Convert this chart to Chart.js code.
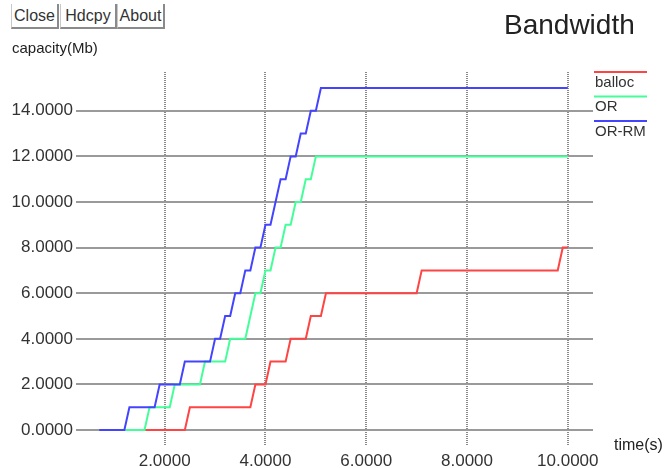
<!DOCTYPE html>
<html>
<head>
<meta charset="utf-8">
<script src="https://cdn.jsdelivr.net/npm/chart.js@4.4.1/dist/chart.umd.min.js"></script>
<style>
  html, body { margin: 0; padding: 0; background: #fff; }
  #wrap { position: relative; width: 672px; height: 468px; overflow: hidden; }
  #chartBandwidth { position: absolute; left: 0; top: 0; }
  .btn {
    position: absolute; top: 4px; height: 23px;
    border-left: 1px solid #c8c8c8; border-right: 2px solid #8a8a8a; border-bottom: 2px solid #8a8a8a;
    font: 16px 'Liberation Sans', Arial, sans-serif; color: #333;
    line-height: 23px; text-align: center; background: #fff;
  }
  .txt { position: absolute; font-family: 'Liberation Sans', Arial, sans-serif; color: #222; white-space: nowrap; }
</style>
</head>
<body>
<div id="wrap">
  <canvas id="chartBandwidth" width="672" height="468"></canvas>
  <div class="btn" style="left:11px;width:45px">Close</div>
  <div class="btn" style="left:60px;width:54px">Hdcpy</div>
  <div class="btn" style="left:117px;width:45px">About</div>
  <div class="txt" style="left:504px;top:9px;font-size:28px">Bandwidth</div>
  <div class="txt" style="left:12px;top:39px;font-size:15px">capacity(Mb)</div>
  <div class="txt" style="left:614px;top:436px;font-size:16px">time(s)</div>
</div>
<script>
const SERIES_NAMES = ['balloc', 'OR', 'OR-RM'];
const SERIES_COLORS = ['#ff4444', '#44ff99', '#4444ff'];

// step vertices (time in s, capacity in Mb)
const tBalloc = [0.7, 2.4, 2.5, 3.7, 3.8, 4.0, 4.1, 4.4, 4.5, 4.8, 4.9, 5.1, 5.2, 7.0, 7.1, 9.8, 9.9, 10.0];
const vBalloc = [0, 0, 1, 1, 2, 2, 3, 3, 4, 4, 5, 5, 6, 6, 7, 7, 8, 8];

const tOR = [0.7, 1.6, 1.7, 2.1, 2.2, 2.7, 2.8, 3.2, 3.3, 3.6, 3.8, 3.9, 4.0, 4.1, 4.2, 4.3, 4.4, 4.5, 4.6, 4.7, 4.8, 4.9, 5.0, 10.0];
const vOR = [0, 0, 1, 1, 2, 2, 3, 3, 4, 4, 6, 6, 7, 7, 8, 8, 9, 9, 10, 10, 11, 11, 12, 12];

const tORRM = [0.7, 1.2, 1.3, 1.8, 1.9, 2.3, 2.4, 2.9, 3.0, 3.1, 3.2, 3.3, 3.4, 3.5, 3.6, 3.7, 3.8, 3.9, 4.0, 4.1, 4.3, 4.4, 4.5, 4.6, 4.7, 4.8, 4.9, 5.0, 5.1, 10.0];
const vORRM = [0, 0, 1, 1, 2, 2, 3, 3, 4, 4, 5, 5, 6, 6, 7, 7, 8, 8, 9, 9, 11, 11, 12, 12, 13, 13, 14, 14, 15, 15];

const X_TICKS = [2, 4, 6, 8, 10];
const Y_TICKS = [0, 2, 4, 6, 8, 10, 12, 14];

const TICK_FONT = { family: "'Liberation Sans', Arial, sans-serif", size: 17 };

function toPoints(times, values) {
  return times.map((t, i) => ({ x: t, y: values[i] }));
}

// legend: short line above each series name, top right of the plot
const lineLegend = {
  id: 'lineLegend',
  afterDraw(chart) {
    const { ctx, chartArea } = chart;
    const x0 = chartArea.right + 1;
    ctx.save();
    chart.data.datasets.forEach((ds, i) => {
      const y = chartArea.top + i * 24.5;
      ctx.strokeStyle = ds.borderColor;
      ctx.lineWidth = 2;
      ctx.beginPath();
      ctx.moveTo(x0, y);
      ctx.lineTo(x0 + 53, y);
      ctx.stroke();
      ctx.fillStyle = '#333';
      ctx.font = "15px 'Liberation Sans', Arial, sans-serif";
      ctx.textBaseline = 'top';
      ctx.fillText(ds.label, x0 + 1, y + 3);
    });
    ctx.restore();
  }
};

const datasets = [
  { label: SERIES_NAMES[0], data: toPoints(tBalloc, vBalloc), order: 3 },
  { label: SERIES_NAMES[1], data: toPoints(tOR, vOR), order: 2 },
  { label: SERIES_NAMES[2], data: toPoints(tORRM, vORRM), order: 1 }
].map((ds, i) => ({
  ...ds,
  borderColor: SERIES_COLORS[i],
  backgroundColor: SERIES_COLORS[i],
  borderWidth: 2,
  pointRadius: 0,
  tension: 0,
  fill: false
}));

new Chart(document.getElementById('chartBandwidth'), {
  type: 'line',
  data: { datasets },
  plugins: [lineLegend],
  options: {
    responsive: false,
    animation: false,
    layout: { padding: { top: 72, right: 79, left: 0, bottom: 0 } },
    plugins: { legend: { display: false }, tooltip: { enabled: false } },
    scales: {
      x: {
        type: 'linear',
        min: 0.24,
        max: 10.5,
        afterBuildTicks: (scale) => { scale.ticks = X_TICKS.map((v) => ({ value: v })); },
        afterFit: (scale) => { scale.height = 22; },
        ticks: {
          color: '#333',
          font: TICK_FONT,
          padding: 5,
          maxRotation: 0,
          callback: (v) => Number(v).toFixed(4)
        },
        grid: { color: '#8a8a8a', lineWidth: 2, drawTicks: false },
        border: { display: false, dash: [1, 1] }
      },
      y: {
        min: -0.7,
        max: 15.7,
        afterBuildTicks: (scale) => { scale.ticks = Y_TICKS.map((v) => ({ value: v })); },
        afterFit: (scale) => { scale.width = 76; },
        ticks: {
          color: '#333',
          font: TICK_FONT,
          padding: 3,
          callback: (v) => Number(v).toFixed(4)
        },
        grid: { color: '#9a9a9a', lineWidth: 2, drawTicks: false },
        border: { display: false }
      }
    }
  }
});
</script>
</body>
</html>
